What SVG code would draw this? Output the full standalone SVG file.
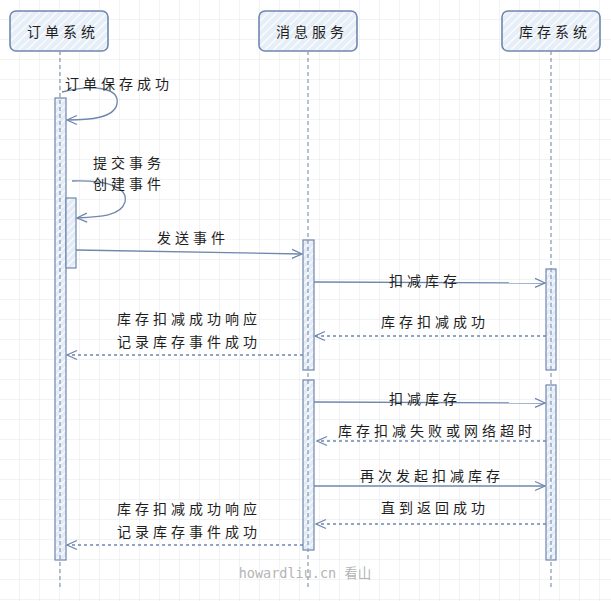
<svg xmlns="http://www.w3.org/2000/svg" width="611" height="601" viewBox="0 0 611 601">
<style>
.t{font-family:"Noto Sans CJK SC","Noto Sans",sans-serif;font-size:14px;fill:#1e1e1e;letter-spacing:4px;text-anchor:middle;dominant-baseline:central}
.box{fill:url(#hatch);stroke:#6f87ad;stroke-width:1.6}
.bar{fill:url(#hatch2);stroke:#6f87ad;stroke-width:1.2}
.life{stroke:#8796b0;stroke-width:1.2;stroke-dasharray:4 3;fill:none}
.msg{stroke:#6f87ad;stroke-width:1.3;fill:none;marker-end:url(#open)}
.ret{stroke:#6f87ad;stroke-width:1.3;fill:none;stroke-dasharray:3 3;marker-end:url(#open)}
</style>
<defs>
<pattern id="grid" width="20" height="20" patternUnits="userSpaceOnUse">
<path d="M20 0V20M0 20H20" stroke="#e3e6eb" stroke-width="1" fill="none"/>
</pattern>
<pattern id="hatch" width="6" height="6" patternUnits="userSpaceOnUse" patternTransform="rotate(45)">
<rect width="6" height="6" fill="#e6eef8"/>
<line x1="0" y1="0" x2="0" y2="6" stroke="#ffffff" stroke-width="2.5"/>
</pattern>
<pattern id="hatch2" width="5" height="5" patternUnits="userSpaceOnUse" patternTransform="rotate(45)">
<rect width="5" height="5" fill="#e3ebf6"/>
<line x1="0" y1="0" x2="0" y2="5" stroke="#ffffff" stroke-width="2"/>
</pattern>
<marker id="open" viewBox="0 0 12 12" refX="11" refY="6" markerWidth="12" markerHeight="12" markerUnits="userSpaceOnUse" orient="auto">
<path d="M1 1.5 L11 6 L1 10.5" fill="none" stroke="#6f87ad" stroke-width="1.3"/>
</marker>
</defs>
<rect width="611" height="601" fill="#ffffff"/>
<rect width="611" height="601" fill="url(#grid)"/>

<g id="order-system">
<rect class="box" x="10" y="11" width="98" height="40" rx="6"/>
<text class="t" x="63" y="31">订单系统</text>
<rect class="bar" x="55" y="98" width="11" height="462"/>
<rect class="bar" x="66" y="198" width="10" height="70"/>
<line class="life" x1="60" y1="51" x2="60" y2="590"/>
</g>
<g id="message-service">
<rect class="box" x="259" y="11" width="98" height="40" rx="6"/>
<text class="t" x="312" y="31">消息服务</text>
<rect class="bar" x="303" y="240" width="11" height="130"/>
<rect class="bar" x="303" y="380" width="11" height="170"/>
<line class="life" x1="308" y1="51" x2="308" y2="590"/>
</g>
<g id="inventory-system">
<rect class="box" x="502" y="11" width="98" height="40" rx="6"/>
<text class="t" x="555" y="31">库存系统</text>
<rect class="bar" x="546" y="269" width="10" height="101"/>
<rect class="bar" x="546" y="385" width="10" height="175"/>
<line class="life" x1="551" y1="51" x2="551" y2="590"/>
</g>

<g id="connectors">
<path class="msg" d="M62 92 C95 84 120 88 117 104 C114 118 90 120 67 120"/>
<path class="msg" d="M72 181 C110 180 128 188 125 202 C121 216 100 217 77 218"/>
<path class="msg" d="M76 250 L302 254"/>
<path class="msg" d="M314 282 L545 283"/>
<path class="ret" d="M546 336 L315 336"/>
<path class="ret" d="M303 355 L67 355"/>
<path class="msg" d="M314 402 L545 403"/>
<path class="ret" d="M546 441 L317 441"/>
<path class="msg" d="M314 486 L545 486"/>
<path class="ret" d="M546 524 L316 524"/>
<path class="ret" d="M303 545 L67 545"/>
</g>

<g id="labels">
<text class="t" x="119" y="83">订单保存成功</text>
<text class="t" x="129" y="162">提交事务</text>
<text class="t" x="129" y="183">创建事件</text>
<text class="t" x="193" y="237">发送事件</text>
<text class="t" x="425" y="280">扣减库存</text>
<text class="t" x="435" y="321">库存扣减成功</text>
<text class="t" x="189" y="318">库存扣减成功响应</text>
<text class="t" x="189" y="341">记录库存事件成功</text>
<text class="t" x="425" y="398">扣减库存</text>
<text class="t" x="437" y="430">库存扣减失败或网络超时</text>
<text class="t" x="432" y="475">再次发起扣减库存</text>
<text class="t" x="435" y="507">直到返回成功</text>
<text class="t" x="189" y="508">库存扣减成功响应</text>
<text class="t" x="189" y="531">记录库存事件成功</text>
<text x="305" y="578" text-anchor="middle" style="font-family:'DejaVu Sans Mono','Noto Sans CJK SC',monospace;font-size:13.5px;fill:#b4b4b4">howardliu.cn 看山</text>
</g>
</svg>
